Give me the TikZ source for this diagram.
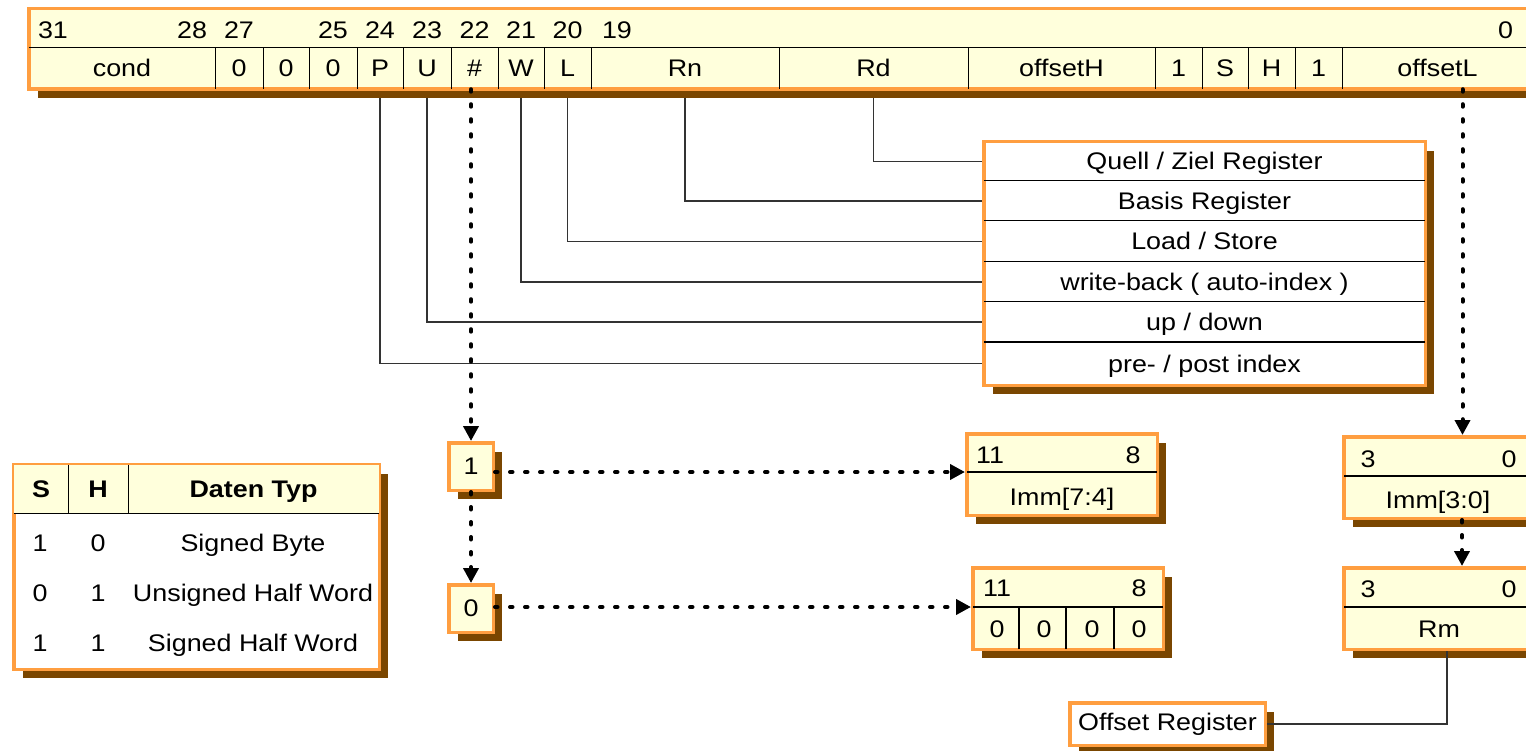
\documentclass[tikz,border=0pt]{standalone}
\usepackage{fontspec}
\setmainfont{Liberation Sans}[FakeStretch=1.12]
\usetikzlibrary{arrows.meta,shadows}
\pgfdeclarelayer{wires}
\pgfsetlayers{wires,main}
\definecolor{frameor}{HTML}{FF9E40}
\definecolor{cream}{HTML}{FFFFDC}
\definecolor{shade}{HTML}{7A4600}

\tikzset{
  frame/.style={rectangle, inner sep=0pt, draw=frameor, line width=3.5pt, fill=cream,
    drop shadow={shadow xshift=9pt, shadow yshift=-9pt, fill=shade, opacity=1}},
  wframe/.style={frame, fill=white},
  lbl/.style={inner sep=0pt, text height=17pt, text depth=0pt},
  cellbox/.style={rectangle, inner sep=0pt, text height=17pt, text depth=0pt},
  sep/.style={line width=1.4pt, draw=black},
  wire/.style={line width=1.1pt, draw=black!80},
  dotlink/.style={line width=4pt, line cap=round, dash pattern=on 2.5pt off 12.5pt,
    -{Triangle[length=15pt,width=15pt]}},
}

\begin{document}
\begin{tikzpicture}[x=1pt, y=-1pt, font=\fontsize{24}{28}\selectfont]
\useasboundingbox (0,0) rectangle (1526,751);

% ---------- instruction word ----------
\node[frame, minimum width=1504.5pt, minimum height=80.5pt] (bar) at (781,49) {};
\foreach \nm/\l/\r/\t in {fCond/29/215/cond, f0a/215/263/0, f0b/263/309/0, f0c/309/357/0,
    fP/357/403/P, fU/403/451/U, fHash/451/498/\#, fW/498/544/W, fL/544/591/L,
    fRn/591/779/Rn, fRd/779/968/Rd, fOffH/968/1155/offsetH, f1a/1155/1202/1,
    fS/1202/1248/S, fH/1248/1295/H, f1b/1295/1342/1, fOffL/1342/1533/offsetL}{
  \pgfmathsetmacro\w{\r-\l}
  \pgfmathsetmacro\c{(\l+\r)/2}
  \node[cellbox, minimum width=\w pt, minimum height=41pt] (\nm) at (\c,68.5) {\t};
}
\draw[sep] (fCond.north west) -- (fOffL.north east);
\foreach \nm in {fCond,f0a,f0b,f0c,fP,fU,fHash,fW,fL,fRn,fRd,fOffH,f1a,fS,fH,f1b}
  \draw[sep] (\nm.north east) -- (\nm.south east);

% bit numbers
\node[lbl, anchor=west, xshift=9pt] (n31) at (fCond.west |- 0,30.5) {31};
\node[lbl, anchor=east, xshift=-8pt] (n28) at (fCond.east |- 0,30.5) {28};
\node[lbl] (n27) at (f0a |- 0,30.5) {27};
\node[lbl] (n25) at (f0c |- 0,30.5) {25};
\node[lbl] (n24) at (fP |- 0,30.5) {24};
\node[lbl] (n23) at (fU |- 0,30.5) {23};
\node[lbl] (n22) at (fHash |- 0,30.5) {22};
\node[lbl] (n21) at (fW |- 0,30.5) {21};
\node[lbl] (n20) at (fL |- 0,30.5) {20};
\node[lbl, anchor=west, xshift=11pt] (n19) at (fRn.west |- 0,30.5) {19};
\node[lbl, anchor=east, xshift=-20pt] (n0) at (fOffL.east |- 0,30.5) {0};

% ---------- field meaning box ----------
\node[wframe, minimum width=441.5pt, minimum height=243.5pt] (lbox) at (1204.5,263.5) {};
\node[cellbox, minimum width=441pt, minimum height=39pt] (rQuell) at (1204.5,161.5) {Quell / Ziel Register};
\node[cellbox, minimum width=441pt, minimum height=40pt] (rBasis) at (1204.5,201) {Basis Register};
\node[cellbox, minimum width=441pt, minimum height=41pt] (rLoad) at (1204.5,241.5) {Load / Store};
\node[cellbox, minimum width=441pt, minimum height=40pt] (rWB) at (1204.5,282) {write-back ( auto-index )};
\node[cellbox, minimum width=441pt, minimum height=40pt] (rUp) at (1204.5,322) {up / down};
\node[cellbox, minimum width=441pt, minimum height=43pt] (rPre) at (1204.5,363.5) {pre- / post index};
\foreach \nm in {rBasis,rLoad,rWB,rUp,rPre}
  \draw[sep] (\nm.north west) -- (\nm.north east);

\begin{pgfonlayer}{wires}
  \draw[wire] (fRd.south) |- (rQuell.west);
  \draw[wire] (fRn.south) |- (rBasis.west);
  \draw[wire] (fL.south) |- (rLoad.west);
  \draw[wire] (fW.south) |- (rWB.west);
  \draw[wire] (fU.south) |- (rUp.west);
  \draw[wire] (fP.south) |- (rPre.west);
\end{pgfonlayer}

% ---------- data type table ----------
\node[wframe, minimum width=365.5pt, minimum height=204.5pt] (tbl) at (196.5,567) {};
\node[cellbox, fill=cream, minimum width=54pt, minimum height=48pt, font=\fontsize{24}{28}\selectfont\bfseries] (hS) at (41,489) {S};
\node[cellbox, fill=cream, minimum width=60pt, minimum height=48pt, font=\fontsize{24}{28}\selectfont\bfseries] (hH) at (98,489) {H};
\node[cellbox, fill=cream, minimum width=251pt, minimum height=48pt, font=\fontsize{24}{28}\selectfont\bfseries] (hTyp) at (253.5,489) {Daten Typ};
\draw[sep] (hS.south west) -- (hTyp.south east);
\draw[sep] (hS.north east) -- (hS.south east);
\draw[sep] (hH.north east) -- (hH.south east);
\node[lbl] (t1s) at (40,543) {1};
\node[lbl] (t1h) at (98,543) {0};
\node[lbl] (t1d) at (253,543) {Signed Byte};
\node[lbl] (t2s) at (40,593) {0};
\node[lbl] (t2h) at (98,593) {1};
\node[lbl] (t2d) at (253,593) {Unsigned Half Word};
\node[lbl] (t3s) at (40,643) {1};
\node[lbl] (t3h) at (98,643) {1};
\node[lbl] (t3d) at (253,643) {Signed Half Word};

% ---------- immediate flag ----------
\node[frame, minimum width=44.5pt, minimum height=47.5pt] (b1) at (471,466.5) {1};
\node[frame, minimum width=44.5pt, minimum height=47.5pt] (b0) at (471,608.5) {0};

% ---------- Imm[7:4] ----------
\node[frame, minimum width=190.5pt, minimum height=81.5pt] (i74) at (1062,474.5) {};
\coordinate (i74div) at (967,472);
\draw[sep] (i74div) -- ++(190,0);
\node[lbl] (i74a) at (990,455) {11};
\node[lbl] (i74b) at (1133,455) {8};
\node[lbl] (i74c) at (1062,497) {Imm[7:4]};

% ---------- zero nibble ----------
\node[frame, minimum width=190.5pt, minimum height=81.5pt] (z0) at (1068,608.5) {};
\coordinate (z0div) at (973,607);
\draw[sep] (z0div) -- ++(190,0);
\foreach \x in {1019,1066,1114} \draw[sep] (\x,607) -- (\x,649);
\node[lbl] (z0a) at (997,588) {11};
\node[lbl] (z0b) at (1139,588) {8};
\node[lbl] (z0c) at (997,629) {0};
\node[lbl] (z0d) at (1044,629) {0};
\node[lbl] (z0e) at (1092,629) {0};
\node[lbl] (z0f) at (1139,629) {0};

% ---------- Imm[3:0] ----------
\node[frame, minimum width=189.5pt, minimum height=81.5pt] (i30) at (1438.5,477.5) {};
\draw[sep] (1344,476) -- ++(190,0);
\node[lbl] (i30a) at (1368,459) {3};
\node[lbl] (i30b) at (1509,459) {0};
\node[lbl] (i30c) at (1438,500) {Imm[3:0]};

% ---------- Rm ----------
\node[frame, minimum width=189.5pt, minimum height=81.5pt] (rm) at (1438.5,608.5) {};
\draw[sep] (1344,607) -- ++(190,0);
\node[lbl] (rma) at (1368,589) {3};
\node[lbl] (rmb) at (1509,589) {0};
\node[lbl] (rmc) at (1439,629) {Rm};

% ---------- offset register ----------
\node[wframe, minimum width=195.5pt, minimum height=42.5pt] (oreg) at (1167.5,724) {Offset Register};
\draw[wire] ([xshift=8.5pt]rm.south) |- (oreg.east);

% ---------- dotted selections ----------
\draw[dotlink] (b1.north |- fHash.south) -- (b1.north);
\draw[dotlink] (b1.south) -- (b0.north);
\draw[dotlink] (b1.east |- i74div) -- (i74.west |- i74div);
\draw[dotlink] (b0.east |- z0div) -- (z0.west |- z0div);
\draw[dotlink] ([xshift=25pt]fOffL.south) -- ([xshift=25pt]fOffL.south |- i30.north);
\draw[dotlink] ([xshift=23.5pt]i30.south) -- ([xshift=23.5pt]rm.north);
\end{tikzpicture}
\end{document}
